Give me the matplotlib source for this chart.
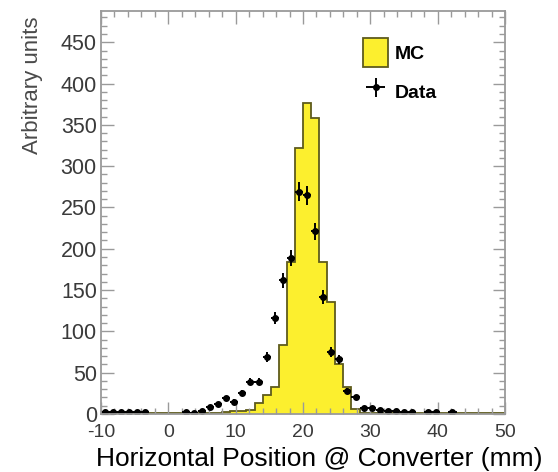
import matplotlib.pyplot as plt
import numpy as np
from matplotlib.patches import Patch
from matplotlib.ticker import MultipleLocator

plt.rcParams["font.family"] = ["Liberation Sans", "DejaVu Sans"]
plt.rcParams["axes.unicode_minus"] = False

# 50 bins of 1.2 mm between -10 and 50 mm
x_min, x_max, n_bins = -10, 50, 50

mc = [1, 1, 1, 1, 1, 1, 1, 1, 1, 1,
      1, 1, 1, 1, 1, 2, 3, 4, 5, 13,
      23, 33, 83, 184, 322, 376, 358, 184, 136, 60,
      33, 6, 1, 1, 1, 1, 1, 1, 1, 1,
      1, 1, 1, 1, 1, 1, 1, 1, 1, 1]

data = [2, 2, 2, 2, 2, 2, 0, 0, 0, 0,
        2, 1, 4, 8, 12, 19, 15, 25, 39, 39,
        69, 116, 162, 189, 269, 265, 221, 142, 75, 66,
        28, 20, 7, 7, 5, 3, 3, 2, 2, 0,
        2, 2, 0, 2, 0, 0, 0, 0, 0, 0]

data_err = [1, 1, 1, 1, 1, 1, 0, 0, 0, 0,
            1, 1, 1.5, 2, 2.5, 3, 3, 3.5, 4.5, 4.5,
            6, 7.5, 9, 9.5, 11.5, 11.5, 10.5, 8.5, 6, 5.5,
            4, 3, 2, 2, 1.5, 1, 1, 1, 1, 0,
            1, 1, 0, 1, 0, 0, 0, 0, 0, 0]

yellow = "#fcef2e"
outline = "#5e5b1c"
frame = "#9a9a9a"


def plot_histograms(ax):
    edges = np.linspace(x_min, x_max, n_bins + 1)
    centers = 0.5 * (edges[1:] + edges[:-1])
    half = 0.5 * (edges[1] - edges[0])

    ax.stairs(mc, edges, fill = True, color = yellow, lw = 0)
    ax.stairs(mc, edges, color = outline, lw = 1.3)

    d = np.array(data, dtype = float)
    e = np.array(data_err, dtype = float)
    m = d > 0
    cont = ax.errorbar(
        centers[m], d[m], yerr = e[m], xerr = half,
        fmt = "o", ms = 4, color = "black",
        elinewidth = 1.4, capsize = 0)
    return cont


def style_axes(ax):
    ax.set(xlim = [x_min, x_max], ylim = [0, 488])
    ax.xaxis.set_major_locator(MultipleLocator(10))
    ax.xaxis.set_minor_locator(MultipleLocator(2))
    ax.yaxis.set_major_locator(MultipleLocator(50))
    ax.yaxis.set_minor_locator(MultipleLocator(10))
    ax.tick_params(which = "both", direction = "in", top = True,
                   right = True, color = frame, width = 1)
    ax.tick_params(which = "major", length = 9)
    ax.tick_params(which = "minor", length = 4)
    ax.tick_params(axis = "y", labelsize = 15.5, pad = 3,
                   labelcolor = "#3a3a3a")
    ax.tick_params(axis = "x", labelsize = 14, pad = 7,
                   labelcolor = "#3a3a3a")
    for sp in ax.spines.values():
        sp.set_color(frame)
        sp.set_linewidth(1.3)


fig = plt.figure(figsize = (5.58, 4.72), dpi = 100)
ax = fig.add_axes([0.181, 0.123, 0.724, 0.854])

cont = plot_histograms(ax)
style_axes(ax)

fig.text(0.573, 0.013, "Horizontal Position @ Converter (mm)",
         ha = "center", va = "baseline", fontsize = 19, color = "black")
fig.text(0.058, 0.966, "Arbitrary units", rotation = 90,
         ha = "center", va = "top", fontsize = 16, color = "#4a4a4a")

mc_handle = Patch(facecolor = yellow, edgecolor = outline, lw = 1.3)
ax.legend([mc_handle, cont], ["MC", "Data"],
          loc = "upper left", bbox_to_anchor = (0.605, 0.975),
          frameon = False, handlelength = 1.3, handleheight = 1.9,
          handletextpad = 0.35, labelspacing = 0.5,
          prop = {"weight": "bold", "size": 14})

fig.savefig("out.png", dpi = 100)
